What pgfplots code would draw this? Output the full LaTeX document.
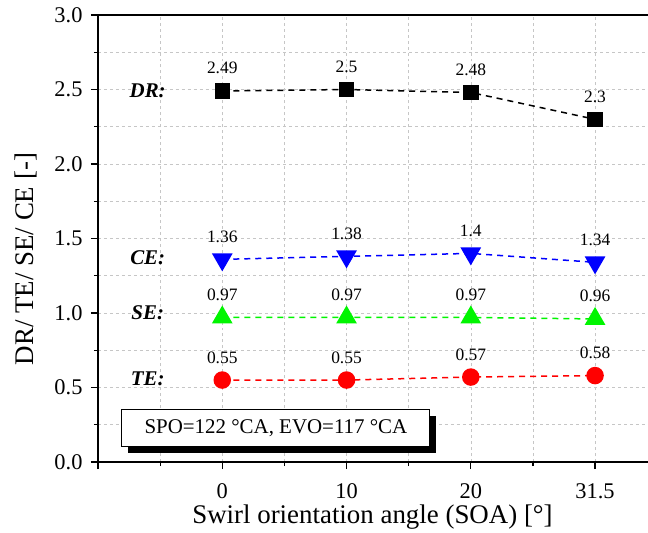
\documentclass[border=0pt]{standalone}
\usepackage{pgfplots}
\pgfplotsset{compat=1.18}
\usepackage{fontspec}
\setmainfont{Liberation Serif}
\usetikzlibrary{calc,shadows}
\definecolor{cblue}{RGB}{0,0,255}
\definecolor{cgreen}{RGB}{0,245,0}
\definecolor{cred}{RGB}{255,0,0}
\begin{document}
\begin{tikzpicture}
\begin{axis}[
 name=ax,
 scale only axis, width=550bp, height=447bp,
 xmin=-1, xmax=3.426, ymin=0, ymax=3,
 axis lines=left, axis line style={-, line width=1.6bp},
 xtick={-1,0,1,2,3}, xticklabels={,0,10,20,31.5},
 minor xtick={-0.5,0.5,1.5,2.5,3.5},
 ytick={0,0.5,1,1.5,2,2.5,3}, minor ytick={0.25,0.75,1.25,1.75,2.25,2.75},
 /pgf/number format/assume math mode=true,
 tick style={black, line width=1.2bp},
 major tick length=7bp, minor tick length=4bp,
 tick align=outside,
 grid=both,
 major grid style={gray!45, dashed, line width=0.6bp},
 minor grid style={gray!45, dashed, line width=0.6bp},
 ticklabel style={font=\fontsize{22.5}{24}\selectfont},
 xticklabel style={yshift=-11bp},
 yticklabel style={xshift=-5bp, /pgf/number format/.cd, fixed, fixed zerofill, precision=1},
 xlabel={Swirl orientation angle (SOA) [°]},
 ylabel={DR/ TE/ SE/ CE [-]},
 label style={font=\fontsize{27}{30}\selectfont},
 xlabel style={at={(rel axis cs:0.5,0)}, anchor=base, yshift=-61bp, xshift=-0.5bp},
 ylabel style={at={(rel axis cs:0,0.454)}, anchor=center, yshift=72bp},
 nodes near coords,
 every node near coord/.append style={font=\fontsize{17.5}{19}\selectfont, text=black, anchor=south, yshift=12.7bp},
 point meta=explicit symbolic,
 clip=false
]
\addplot[black, line width=1.5bp, dash pattern=on 6bp off 5bp, mark=square*, mark size=7bp, mark options={solid}]
 coordinates {(0,2.49)[2.49] (1,2.5)[2.5] (2,2.48)[2.48] (3,2.3)[2.3]};
\addplot[cblue, line width=1.5bp, dash pattern=on 6bp off 5bp, mark=triangle*, mark size=10.5bp, mark options={solid, rotate=180}]
 coordinates {(0,1.36)[1.36] (1,1.38)[1.38] (2,1.4)[1.4] (3,1.34)[1.34]};
\addplot[cgreen, line width=1.5bp, dash pattern=on 6bp off 5bp, mark=triangle*, mark size=10.5bp, mark options={solid}]
 coordinates {(0,0.97)[0.97] (1,0.97)[0.97] (2,0.97)[0.97] (3,0.96)[0.96]};
\addplot[cred, line width=1.5bp, dash pattern=on 6bp off 5bp, mark=*, mark size=8bp, mark options={solid}]
 coordinates {(0,0.55)[0.55] (1,0.55)[0.55] (2,0.57)[0.57] (3,0.58)[0.58]};
\draw[line width=1.6bp] (rel axis cs:0,1) -- (rel axis cs:1,1);
\node[font=\fontsize{21}{23}\selectfont\bfseries\itshape] at (axis cs:-0.6,2.49) {DR:};
\node[font=\fontsize{21}{23}\selectfont\bfseries\itshape] at (axis cs:-0.6,1.37) {CE:};
\node[font=\fontsize{21}{23}\selectfont\bfseries\itshape] at (axis cs:-0.6,1.0) {SE:};
\node[font=\fontsize{21}{23}\selectfont\bfseries\itshape] at (axis cs:-0.6,0.56) {TE:};
\node[draw, fill=white, line width=1bp, minimum width=308bp, minimum height=37bp, inner sep=0pt,
 drop shadow={shadow xshift=6bp, shadow yshift=-6bp, fill=black, opacity=1},
 font=\fontsize{21}{24}\selectfont] at (axis cs:0.432,0.225) {SPO=122 °CA, EVO=117 °CA};
\end{axis}
\pgfresetboundingbox
\path[use as bounding box] ($(ax.south west)+(-98bp,-71bp)$) rectangle ($(ax.north east)+(0,15bp)$);
\end{tikzpicture}
\end{document}
